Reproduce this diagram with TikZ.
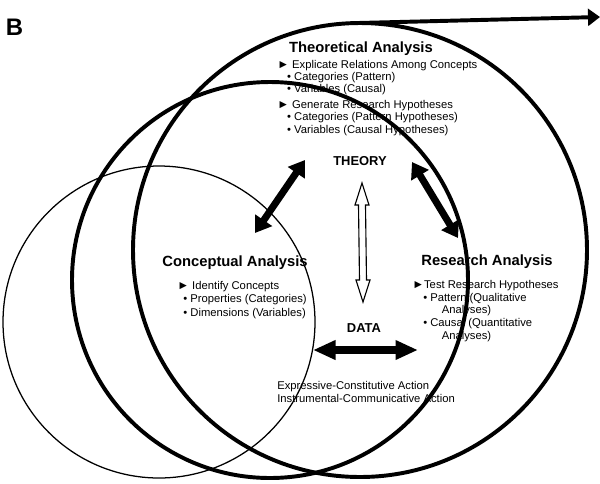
\documentclass[tikz,border=0pt]{standalone}
\usepackage{fontspec}
\setmainfont{Liberation Sans}
\usetikzlibrary{arrows.meta,calc}

\newcommand{\tri}{{\fontsize{8.5}{8}\selectfont ►}}

\begin{document}
\begin{tikzpicture}[x=0.025cm, y=-0.025cm,
    ring/.style={draw=black, line width=2.8pt},
    thinring/.style={draw=black, line width=0.9pt},
    heading/.style={font=\fontsize{10.5}{12}\selectfont\bfseries, inner sep=0pt, anchor=base},
    pole/.style={font=\fontsize{9.2}{11}\selectfont\bfseries, inner sep=0pt, anchor=base},
    items/.style={font=\fontsize{8}{#1}\selectfont, align=left, inner sep=0pt, anchor=base west},
    items/.default=9.4pt,
    flow/.style={line width=5pt, >={Triangle[length=11pt,width=14pt]}, <->},
    hollow/.style={draw=black, line width=0.8pt, fill=white},
  ]
  \useasboundingbox (0,0) rectangle (600,483);

  \coordinate (thinC) at (159,322);
  \coordinate (midC) at (270,280);
  \coordinate (bigC) at (360,250);
  \coordinate (bigTop) at (358,23);
  \coordinate (outTip) at (600,17);

  \draw[thinring] (thinC) circle[radius=156];
  \draw[ring] (midC) circle[radius=198];
  \draw[ring] (bigC) circle[radius=227];
  \draw[ring, -{Triangle[length=8.5pt,width=12pt]}] (bigTop) -- (outTip);

  \node[anchor=base west, inner sep=0pt, font=\fontsize{17}{17}\selectfont\bfseries] (panel) at (5.5,35) {B};

  \node[heading] (theoH) at (361,52) {Theoretical Analysis};
  \node[items=8.7pt] (theoL) at (277,133) {\tri\ Explicate Relations Among Concepts\\
    \hspace*{7pt}• Categories (Pattern)\\
    \hspace*{7pt}• Variables (Causal)\\[2.6pt]
    \tri\ Generate Research Hypotheses\\
    \hspace*{7pt}• Categories (Pattern Hypotheses)\\
    \hspace*{7pt}• Variables (Causal Hypotheses)};

  \node[heading] (concH) at (235,266) {Conceptual Analysis};
  \node[items=9.6pt] (concL) at (177,316) {\tri\ Identify Concepts\\
    \hspace*{4.3pt}• Properties (Categories)\\
    \hspace*{4.3pt}• Dimensions (Variables)};

  \node[heading] (resH) at (487,265) {Research Analysis};
  \node[items=9pt] (resL) at (412,339) {\tri Test Research Hypotheses\\
    \hspace*{7.8pt}• Pattern (Qualitative\\
    \hspace*{21pt}Analyses)\\
    \hspace*{7.8pt}• Causal (Quantitative\\
    \hspace*{21pt}Analyses)};

  \node[pole] (theory) at (360,165) {THEORY};
  \node[pole] (data) at (364,332) {DATA};
  \node[items=9.2pt] (acts) at (277,402) {Expressive-Constitutive Action\\
    Instrumental-Communicative Action};

  \coordinate (thL) at (305,160);
  \coordinate (caT) at (255,233);
  \coordinate (thR) at (412,162);
  \coordinate (raT) at (458,238);
  \coordinate (daL) at (313,350);
  \coordinate (daR) at (418,350);
  \coordinate (tdT) at (362,183);
  \coordinate (tdB) at (363,302);

  \draw[flow] (thL) -- (caT);
  \draw[flow] (thR) -- (raT);
  \draw[flow, line width=5.3pt, >={Triangle[length=16pt,width=13pt]}] (daL) -- (daR);
  \draw[hollow] (tdT) -- ++(7,22) -- ++(-3.5,0) -- ($(tdB)+(3.5,-22)$) -- ++(3.5,0)
    -- (tdB) -- ++(-7,-22) -- ++(3.5,0) -- ($(tdT)+(-3.5,22)$) -- ++(-3.5,0) -- cycle;
\end{tikzpicture}
\end{document}
